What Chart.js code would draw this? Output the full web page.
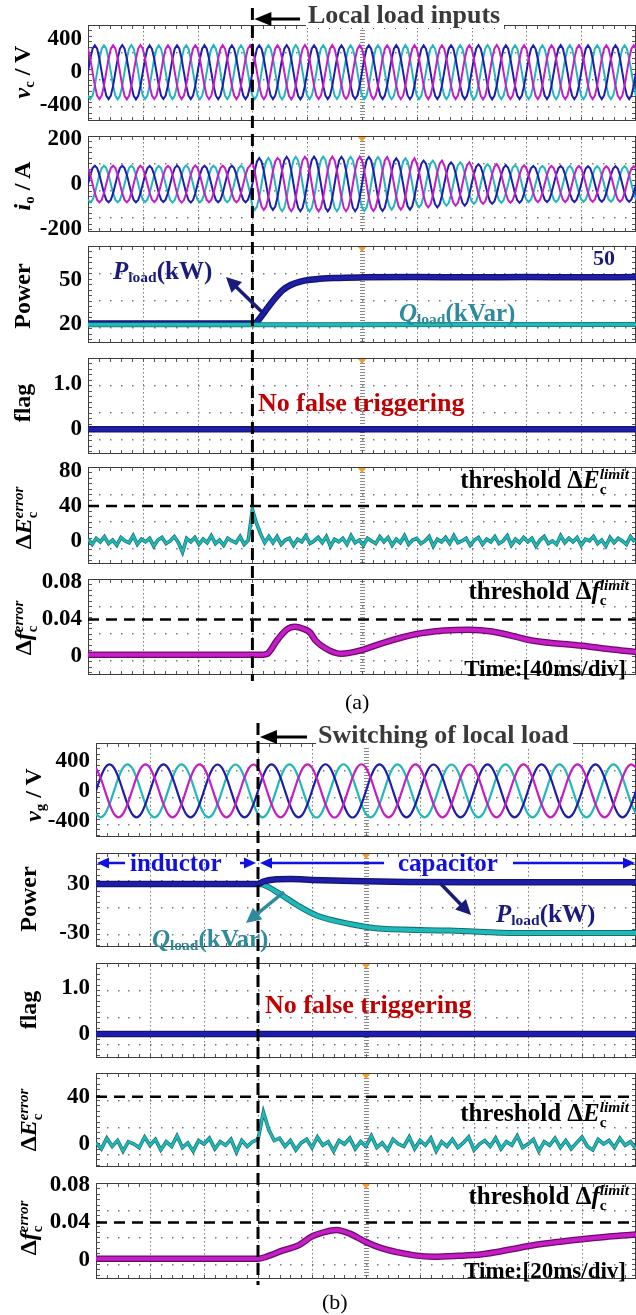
<!DOCTYPE html>
<html>
<head>
<meta charset="utf-8">
<script src="https://cdn.jsdelivr.net/npm/chart.js@4.4.1/dist/chart.umd.min.js"></script>
<style>
  body { margin: 0; background: #fff; }
  #page { position: relative; width: 636px; height: 1315px; overflow: hidden; font-family: "Liberation Serif", "Times New Roman", serif; }
  canvas.pnl { position: absolute; left: 0; }
  #ov { position: absolute; left: 0; top: 0; }
  .t { position: absolute; white-space: nowrap; font-weight: bold; line-height: 1; transform: translateY(-50%); }
  .yt { position: absolute; white-space: nowrap; font-weight: bold; font-size: 24px; line-height: 1; transform: translate(-50%, -50%) rotate(-90deg); }
  .ss { display: inline-block; vertical-align: -0.4em; line-height: 0.95; font-size: 62%; text-align: left; }
  .ss i, .ss b { display: block; }
  sub { font-size: 62%; vertical-align: -0.25em; line-height: 0; }
</style>
</head>
<body>
<div id="page">
  <svg id="ov" width="636" height="1315"></svg>

  <!-- (a) axis titles -->
  <div class="yt" style="left:22px;top:72px"><i>v</i><sub>c</sub> / V</div>
  <div class="yt" style="left:22px;top:186px"><i>i</i><sub>o</sub> / A</div>
  <div class="yt" style="left:22px;top:296px">Power</div>
  <div class="yt" style="left:22px;top:403px">flag</div>
  <div class="yt" style="left:25px;top:518px">Δ<i>E</i><span class="ss"><i>error</i><b>c</b></span></div>
  <div class="yt" style="left:25px;top:628px">Δ<i>f</i><span class="ss"><i>error</i><b>c</b></span></div>

  <!-- (a) annotations -->
  <div class="t" style="left:306px;top:15px;font-size:26px;color:#3a3a3a;background:#fff;padding:0 4px 0 2px">Local load inputs</div>
  <div class="t" style="left:113px;top:270px;font-size:25px;color:#1b1b7a"><i>P</i><sub>load</sub>(kW)</div>
  <div class="t" style="left:593px;top:258px;font-size:22px;color:#1b1b7a">50</div>
  <div class="t" style="left:399px;top:312px;font-size:25px;color:#2e8a9c"><i>Q</i><sub>load</sub>(kVar)</div>
  <div class="t" style="left:258px;top:403px;font-size:26px;color:#c00000">No false triggering</div>
  <div class="t" style="right:7px;top:482px;font-size:25px;color:#000">threshold Δ<i>E</i><span class="ss"><i>limit</i><b>c</b></span></div>
  <div class="t" style="right:7px;top:593px;font-size:25px;color:#000">threshold Δ<i>f</i><span class="ss"><i>limit</i><b>c</b></span></div>
  <div class="t" style="right:10px;top:668px;font-size:23px;color:#000">Time:[40ms/div]</div>
  <div class="t" style="left:345px;top:702px;font-size:22px;font-weight:normal;color:#000">(a)</div>

  <!-- (b) axis titles -->
  <div class="yt" style="left:33px;top:795px"><i>v</i><sub>g</sub> / V</div>
  <div class="yt" style="left:28px;top:899px">Power</div>
  <div class="yt" style="left:28px;top:1010px">flag</div>
  <div class="yt" style="left:30px;top:1120px">Δ<i>E</i><span class="ss"><i>error</i><b>c</b></span></div>
  <div class="yt" style="left:30px;top:1228px">Δ<i>f</i><span class="ss"><i>error</i><b>c</b></span></div>

  <!-- (b) annotations -->
  <div class="t" style="left:316px;top:735px;font-size:26px;color:#3a3a3a;background:#fff;padding:0 4px 0 2px">Switching of local load</div>
  <div class="t" style="left:130px;top:862px;font-size:25px;color:#1010e0">inductor</div>
  <div class="t" style="left:398px;top:862px;font-size:25px;color:#1010e0">capacitor</div>
  <div class="t" style="left:152px;top:938px;font-size:25px;color:#2e8a9c"><i>Q</i><sub>load</sub>(kVar)</div>
  <div class="t" style="left:496px;top:913px;font-size:25px;color:#1b1b7a"><i>P</i><sub>load</sub>(kW)</div>
  <div class="t" style="left:265px;top:1005px;font-size:26px;color:#c00000">No false triggering</div>
  <div class="t" style="right:7px;top:1115px;font-size:25px;color:#000">threshold Δ<i>E</i><span class="ss"><i>limit</i><b>c</b></span></div>
  <div class="t" style="right:7px;top:1198px;font-size:25px;color:#000">threshold Δ<i>f</i><span class="ss"><i>limit</i><b>c</b></span></div>
  <div class="t" style="right:10px;top:1270px;font-size:23px;color:#000">Time:[20ms/div]</div>
  <div class="t" style="left:322px;top:1302px;font-size:22px;font-weight:normal;color:#000">(b)</div>
</div>

<script>
// ---------- shared ----------
const cyclePeriod = 20; // ms, 50 Hz
const waveCycle = [0, 0.5, 0.87, 1, 0.87, 0.5, 0, -0.5, -0.87, -1, -0.87, -0.5]; // one cycle, 30 deg samples

// ---------- (a) 40 ms/div, local load inputs ----------
const timeMaxA = 400, divA = 40, eventA = 120;
const vcAmpA = [330, 332, 328, 330, 331, 329, 330, 332, 330, 328, 330, 331, 329, 330, 332, 330, 329, 331, 330, 330];
const ioAmpA = [81, 81, 80, 82, 81, 81, 115, 121, 122, 121, 120, 114, 104, 96, 88, 83, 80, 80, 79, 79];
const pTimeA = [0, 120, 123, 127, 131, 136, 142, 148, 155, 162, 169, 180, 200, 240, 280, 320, 360, 400];
const pLoadA = [20.6, 20.6, 21.5, 26, 31, 37, 43, 46.5, 48.8, 50, 50.6, 51.2, 51.6, 51.8, 51.6, 51.8, 51.7, 51.8];
const qTimeA = [0, 120, 400];
const qLoadA = [19.8, 19.8, 20];
const flagTimeA = [0, 400];
const flagA = [0, 0];
const dEStepA = 3;
const dErrA = [2, -4, 3, -1, 5, -3, 1, -5, 4, 0, -2, 6, -4, 2, -1, 3, -6, 1, 4, -3, 0, 5, -2, -13, 3, -1, 4, -4, 2, -2, 6, -3, 1, -5, 3, 0, -2, 5, -4, 1,
  36, 20, 8, -2, 5,
  -2, 5, -4, 1, 3, -5, 2, -1, 6, -3, 0, 4, -2, 5, -6, 2, -1, 3, -4, 6, -2, 1, -5, 3, 0, -3, 5, -1, 4, -5, 2, -2, 6, -4, 1, 3, -3, 0, 5, -6,
  2, -1, 4, -3, 6, -2, 0, 3, -5, 1, 4, -4, 2, -1, 5, -3, 0, 6, -5, 2, -2, 4, -1, 3, -6, 1, 5, -3, 0, -4, 6, -2, 3, -1, 4, -5, 2, 0, 5, -3,
  1, -6, 4, -2, 3, 0, -4, 5, -1];
const dELimitA = 40;
const dfTimeA = [0, 120, 128, 131, 138, 145, 151, 157, 162, 166, 176, 185, 200, 215, 239, 260, 278, 295, 325, 361, 380, 400];
const dfErrA = [0.002, 0.002, 0.002, 0.003, 0.0174, 0.029, 0.032, 0.03, 0.026, 0.0174, 0.0067, 0.003, 0.007, 0.0145, 0.024, 0.028, 0.029, 0.027, 0.017, 0.0116, 0.008, 0.0048];
const dfLimitA = 0.04;

const vcTicks = [400, 0, -400], vcTickText = ['400', '0', '-400'];
const ioTicks = [200, 0, -200], ioTickText = ['200', '0', '-200'];
const pTicksA = [50, 20], pTickTextA = ['50', '20'];
const flagTicks = [1, 0], flagTickText = ['1.0', '0'];
const dETicksA = [80, 40, 0], dETickTextA = ['80', '40', '0'];
const dfTicks = [0.08, 0.04, 0], dfTickText = ['0.08', '0.04', '0'];

// ---------- (b) 20 ms/div, switching of local load ----------
const timeMaxB = 200, divB = 20, eventB = 60;
const vgAmpB = [355, 356, 354, 355, 357, 355, 354, 356, 355, 355];
const pTimeB = [0, 60, 62, 66, 72, 80, 95, 115, 140, 170, 200];
const pLoadB = [30, 30, 33, 35.5, 36, 35, 33.5, 32.5, 32, 32, 32];
const qTimeB = [0, 60, 62, 68, 75, 82, 94, 106, 131, 156, 180, 200];
const qLoadB = [30, 30, 29, 18, 3, -9, -19, -25, -27, -30, -30, -30];
const flagTimeB = [0, 200];
const flagB = [0, 0];
const dEStepB = 2;
const dErrB = [1, -4, 5, -2, 3, -6, 2, 0, -3, 6, -1, 4, -5, 2, -2, 7, -3, 1, -6, 3, 0, 5, -4, 2, -1, 4, -7, 3, -2, 2,
  4, 27, 12, 3,
  5, -2, 3, -5, 1, 4, -3, 6, -1, 2, -6, 3, 0, 5, -4, 2, -2, 7, -3, 1, -5, 4, 0, -2, 6, -4, 3, -1, 5, -6,
  2, -2, 4, -3, 1, 6, -5, 0, 3, -2, 5, -4, 2, -1, 7, -3, 0, 4, -6, 2, -1, 5, -3, 3, -4, 1, 6, -2, -5, 4,
  0, 3, -3, 5, -1, 2, -4];
const dELimitB = 40;
const dfTimeB = [0, 60, 63, 69, 75, 80, 85, 89, 94, 100, 106, 112, 118, 125, 134, 143, 152, 162, 171, 180, 190, 200];
const dfErrB = [0.001, 0.001, 0.003, 0.0096, 0.0154, 0.025, 0.03, 0.032, 0.028, 0.019, 0.012, 0.0077, 0.0045, 0.003, 0.004, 0.0058, 0.01, 0.0154, 0.019, 0.022, 0.025, 0.027];
const dfLimitB = 0.04;

const vgTicks = [400, 0, -400], vgTickText = ['400', '0', '-400'];
const pTicksB = [30, -30], pTickTextB = ['30', '-30'];
const dETicksB = [40, 0], dETickTextB = ['40', '0'];

// ---------- helpers ----------
const C = { blue: '#1e1eaa', pink: '#c41ec4', teal: '#22b8b8', navy: '#14146e', dteal: '#127070', dpink: '#6e0a6e' };
const PAD = 14;
const page = document.getElementById('page');
const ov = document.getElementById('ov');

function xy(xs, ys) { return xs.map((x, i) => ({ x: x, y: ys[i] })); }
function sampled(step, ys) { return ys.map((y, i) => ({ x: i * step, y: y })); }
function phase(amps, shift) {
    const n = waveCycle.length, pts = [];
    for (let k = 0; k <= amps.length * n; k++) {
        const c = Math.min(Math.floor(k / n), amps.length - 1);
        pts.push({ x: k * cyclePeriod / n, y: amps[c] * waveCycle[(k + shift) % n] });
    }
    return pts;
}
function ds(data, color, w, extra) {
    return Object.assign({ data: data, borderColor: color, borderWidth: w, pointRadius: 0, tension: 0 }, extra || {});
}
const smooth = { cubicInterpolationMode: 'monotone' };
const dashed = { borderDash: [11, 7] };

// oscilloscope graticule
const scopeGrid = {
    id: 'scopeGrid',
    beforeDatasetsDraw(chart, args, o) {
        const { ctx, chartArea: a, scales: { x } } = chart;
        const L = Math.round(a.left), R = Math.round(a.right), T = Math.round(a.top), B = Math.round(a.bottom);
        const divPx = x.getPixelForValue(o.xStep) - x.getPixelForValue(0);
        const cx = Math.round(x.getPixelForValue(o.xMax / 2));
        ctx.save();
        ctx.fillStyle = '#7a7a7a';
        for (let v = o.xStep; v < o.xMax; v += o.xStep) {
            const px = Math.round(x.getPixelForValue(v));
            if (px === cx) continue;
            for (let py = T + 2; py < B; py += 4) ctx.fillRect(px, py, 1, 1.5);
        }
        o.rows.forEach(off => {
            const py = T + off;
            for (let px = L + divPx / 5; px < R - 2; px += divPx / 5) ctx.fillRect(Math.round(px), py, 1.5, 1.5);
        });
        ctx.fillStyle = '#8a8a8a';
        for (let py = T + 2; py < B - 1; py += 3) ctx.fillRect(cx - 2, py, 5, 1);
        ctx.fillStyle = '#555';
        for (let px = L; px <= R; px += divPx / 5) {
            ctx.fillRect(Math.round(px), T, 1, 4);
            ctx.fillRect(Math.round(px), B - 4, 1, 4);
        }
        for (let py = T; py <= B; py += divPx / 10) {
            ctx.fillRect(L, Math.round(py), 4, 1);
            ctx.fillRect(R - 4, Math.round(py), 4, 1);
        }
        ctx.strokeStyle = '#3c3c3c';
        ctx.lineWidth = 1;
        ctx.strokeRect(L + 0.5, T + 0.5, R - L - 1, B - T - 1);
        if (o.mark) {
            ctx.fillStyle = '#f0a030';
            ctx.beginPath();
            ctx.moveTo(cx - 4, T + 1); ctx.lineTo(cx + 4, T + 1); ctx.lineTo(cx, T + 6);
            ctx.fill();
        }
        ctx.restore();
    }
};

function makePanel(p, left, xMax, xStep) {
    const cv = document.createElement('canvas');
    cv.className = 'pnl';
    cv.width = 636;
    cv.height = p.h + 2 * PAD;
    cv.style.top = (p.top - PAD) + 'px';
    page.insertBefore(cv, ov);
    return new Chart(cv, {
        type: 'line',
        data: { datasets: p.sets },
        options: {
            responsive: false, animation: false, devicePixelRatio: 1,
            layout: { padding: { top: PAD, bottom: PAD, left: 0, right: 0 } },
            plugins: { legend: { display: false }, tooltip: { enabled: false },
                scopeGrid: { xStep: xStep, xMax: xMax, rows: p.rows || [27, 54, 81], mark: p.mark } },
            scales: {
                x: { type: 'linear', min: 0, max: xMax, display: false },
                y: {
                    min: p.min, max: p.max,
                    afterBuildTicks: s => { s.ticks = p.ticks.map(v => ({ value: v })); },
                    afterFit: s => { s.width = left; },
                    grid: { display: false, drawTicks: false },
                    border: { display: false },
                    ticks: { autoSkip: false, padding: 6, color: '#000',
                        font: { family: '"Liberation Serif", "Times New Roman", serif', size: 23, weight: 'bold' },
                        callback: (v, i) => p.tickText[i] }
                }
            }
        },
        plugins: [scopeGrid]
    });
}

// ---------- panels (a) ----------
const dEa = sampled(dEStepA, dErrA), dfa = xy(dfTimeA, dfErrA);
const panelsA = [
    { top: 19, h: 108, min: -600, max: 580, ticks: vcTicks, tickText: vcTickText,
      sets: [ds(phase(vcAmpA, 4), C.pink, 2), ds(phase(vcAmpA, 0), C.blue, 2), ds(phase(vcAmpA, 8), C.teal, 2)] },
    { top: 130, h: 108, min: -214, max: 214, ticks: ioTicks, tickText: ioTickText, mark: true,
      sets: [ds(phase(ioAmpA, 4), C.pink, 2), ds(phase(ioAmpA, 0), C.blue, 2), ds(phase(ioAmpA, 8), C.teal, 2)] },
    { top: 240, h: 109, min: 7.4, max: 72.8, ticks: pTicksA, tickText: pTickTextA, mark: true,
      sets: [ds(xy(qTimeA, qLoadA), C.teal, 3.5), ds(xy(qTimeA, qLoadA), C.dteal, 5), ds(xy(pTimeA, pLoadA), C.blue, 4, smooth), ds(xy(pTimeA, pLoadA), C.navy, 6.5, smooth)] },
    { top: 352, h: 108, min: -0.557, max: 1.59, ticks: flagTicks, tickText: flagTickText, mark: true,
      sets: [ds(xy(flagTimeA, flagA), C.blue, 4), ds(xy(flagTimeA, flagA), C.navy, 6.5)] },
    { top: 461, h: 109, min: -26.7, max: 85.1, ticks: dETicksA, tickText: dETickTextA, mark: true,
      sets: [ds(xy([0, timeMaxA], [dELimitA, dELimitA]), '#000', 2.5, dashed), ds(dEa, C.teal, 2.2), ds(dEa, C.dteal, 3.6)] },
    { top: 573, h: 108, min: -0.0202, max: 0.0839, ticks: dfTicks, tickText: dfTickText,
      sets: [ds(xy([0, timeMaxA], [dfLimitA, dfLimitA]), '#000', 2.5, dashed), ds(dfa, C.pink, 4, smooth), ds(dfa, C.dpink, 6.5, smooth)] }
];
const chartsA = panelsA.map(p => makePanel(p, 88, timeMaxA, divA));

// ---------- panels (b) ----------
const dEb = sampled(dEStepB, dErrB), dfb = xy(dfTimeB, dfErrB);
const panelsB = [
    { top: 737, h: 106, min: -621, max: 645, ticks: vgTicks, tickText: vgTickText,
      sets: [ds(phase(vgAmpB, 4), C.pink, 2.2, { tension: 0.3 }), ds(phase(vgAmpB, 0), C.blue, 2.2, { tension: 0.3 }), ds(phase(vgAmpB, 8), C.teal, 2.2, { tension: 0.3 })] },
    { top: 847, h: 106, min: -47.5, max: 68.2, ticks: pTicksB, tickText: pTickTextB, mark: true,
      sets: [ds(xy(pTimeB, pLoadB), C.blue, 4, smooth), ds(xy(pTimeB, pLoadB), C.navy, 6.5, smooth), ds(xy(qTimeB, qLoadB), C.teal, 4, smooth), ds(xy(qTimeB, qLoadB), C.dteal, 6, smooth)] },
    { top: 957, h: 107, min: -0.52, max: 1.54, ticks: flagTicks, tickText: flagTickText, mark: true,
      sets: [ds(xy(flagTimeB, flagB), C.blue, 4), ds(xy(flagTimeB, flagB), C.navy, 6.5)] },
    { top: 1067, h: 106, min: -19.6, max: 60.4, ticks: dETicksB, tickText: dETickTextB, mark: true,
      sets: [ds(xy([0, timeMaxB], [dELimitB, dELimitB]), '#000', 2.5, dashed), ds(dEb, C.teal, 2.2), ds(dEb, C.dteal, 3.6)] },
    { top: 1177, h: 108, min: -0.0212, max: 0.0829, ticks: dfTicks, tickText: dfTickText, mark: true,
      sets: [ds(xy([0, timeMaxB], [dfLimitB, dfLimitB]), '#000', 2.5, dashed), ds(dfb, C.pink, 4, smooth), ds(dfb, C.dpink, 6.5, smooth)] }
];
const chartsB = panelsB.map(p => makePanel(p, 96, timeMaxB, divB));

// ---------- overlay: event lines and arrows ----------
const NS = 'http://www.w3.org/2000/svg';
function svg(tag, attrs) {
    const el = document.createElementNS(NS, tag);
    Object.keys(attrs).forEach(k => el.setAttribute(k, attrs[k]));
    ov.appendChild(el);
    return el;
}
function arrow(x1, y1, x2, y2, color, w, hl, hw) {
    const dx = x2 - x1, dy = y2 - y1, len = Math.hypot(dx, dy), ux = dx / len, uy = dy / len;
    const bx = x2 - ux * hl, by = y2 - uy * hl;
    svg('line', { x1: x1, y1: y1, x2: bx + ux, y2: by + uy, stroke: color, 'stroke-width': w });
    svg('polygon', { points: [x2, y2, bx - uy * hw / 2, by + ux * hw / 2, bx + uy * hw / 2, by - ux * hw / 2].join(' '), fill: color });
}

const exA = chartsA[0].scales.x.getPixelForValue(eventA);
const exB = chartsB[0].scales.x.getPixelForValue(eventB);

arrow(300, 19, exA + 2, 19, '#000', 3, 17, 14);
arrow(307, 737, exB + 2, 737, '#000', 3, 17, 14);

svg('line', { x1: exA, y1: 8, x2: exA, y2: 681, stroke: '#000', 'stroke-width': 3, 'stroke-dasharray': '12 6' });
svg('line', { x1: exB, y1: 723, x2: exB, y2: 1285, stroke: '#000', 'stroke-width': 3, 'stroke-dasharray': '12 6' });

arrow(263, 313, 226, 277, '#1b1b7a', 3.5, 15, 15);
arrow(284, 892, 246, 923, '#2e8a9c', 3.5, 15, 15);
arrow(440, 883, 471, 915, '#1b1b7a', 3.5, 15, 15);

arrow(125, 863, 97, 863, '#1010e0', 2.5, 12, 11);
arrow(240, 863, exB - 2, 863, '#1010e0', 2.5, 12, 11);
arrow(384, 863, exB + 2, 863, '#1010e0', 2.5, 12, 11);
arrow(513, 863, 635, 863, '#1010e0', 2.5, 12, 11);
</script>
</body>
</html>
